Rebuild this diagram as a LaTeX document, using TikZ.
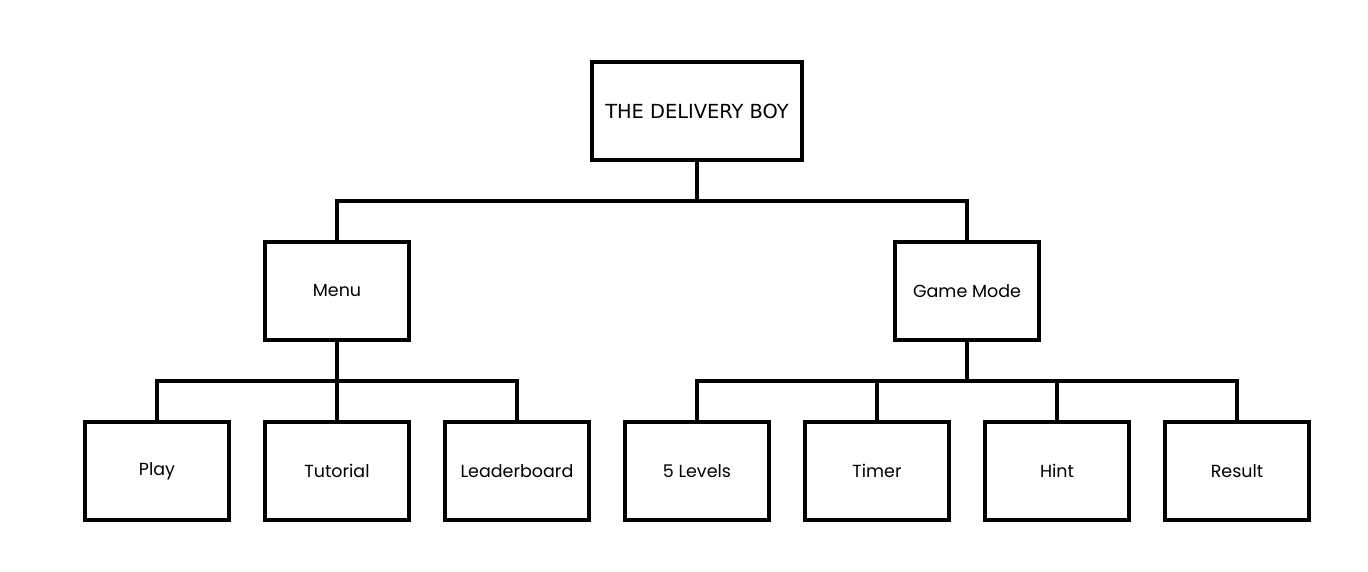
\documentclass[tikz,border=0pt]{standalone}
\usepackage{fontspec}
\setmainfont{Poppins}
\newfontfamily\topfont{DejaVu Sans}
\begin{document}
\begin{tikzpicture}[x=1pt,y=-1pt,
  box/.style={draw=black,line width=3.2pt,fill=white,minimum width=144pt,minimum height=98pt,inner sep=0pt,font=\fontsize{17.5}{20}\selectfont},
  topbox/.style={box,minimum width=210pt,font=\topfont\fontsize{19.4}{22}\selectfont},
  link/.style={draw=black,line width=3.2pt}]
\useasboundingbox (0,0) rectangle (1368,572);
\node[topbox] (root) at (697,111) {THE DELIVERY BOY};
\node[box] (menu) at (337,291) {Menu};
\node[box] (game) at (967,291) {Game Mode};
\node[box] (play) at (157,471) {Play};
\node[box] (tut) at (337,471) {Tutorial};
\node[box] (lead) at (517,471) {Leaderboard};
\node[box] (lev) at (697,471) {5 Levels};
\node[box] (timer) at (877,471) {Timer};
\node[box] (hint) at (1057,471) {Hint};
\node[box] (res) at (1237,471) {Result};
\coordinate (j0) at (697,201);
\coordinate (j1) at (337,381);
\coordinate (j2) at (967,381);
\draw[link] (root.south) -- (j0);
\draw[link] (menu.north) -- (menu.north |- j0) -- (game.north |- j0) -- (game.north);
\draw[link] (menu.south) -- (j1);
\draw[link] (play.north) -- (play.north |- j1) -- (lead.north |- j1) -- (lead.north);
\draw[link] (j1) -- (tut.north);
\draw[link] (game.south) -- (j2);
\draw[link] (lev.north) -- (lev.north |- j2) -- (res.north |- j2) -- (res.north);
\draw[link] (timer.north |- j2) -- (timer.north);
\draw[link] (hint.north |- j2) -- (hint.north);
\end{tikzpicture}
\end{document}
